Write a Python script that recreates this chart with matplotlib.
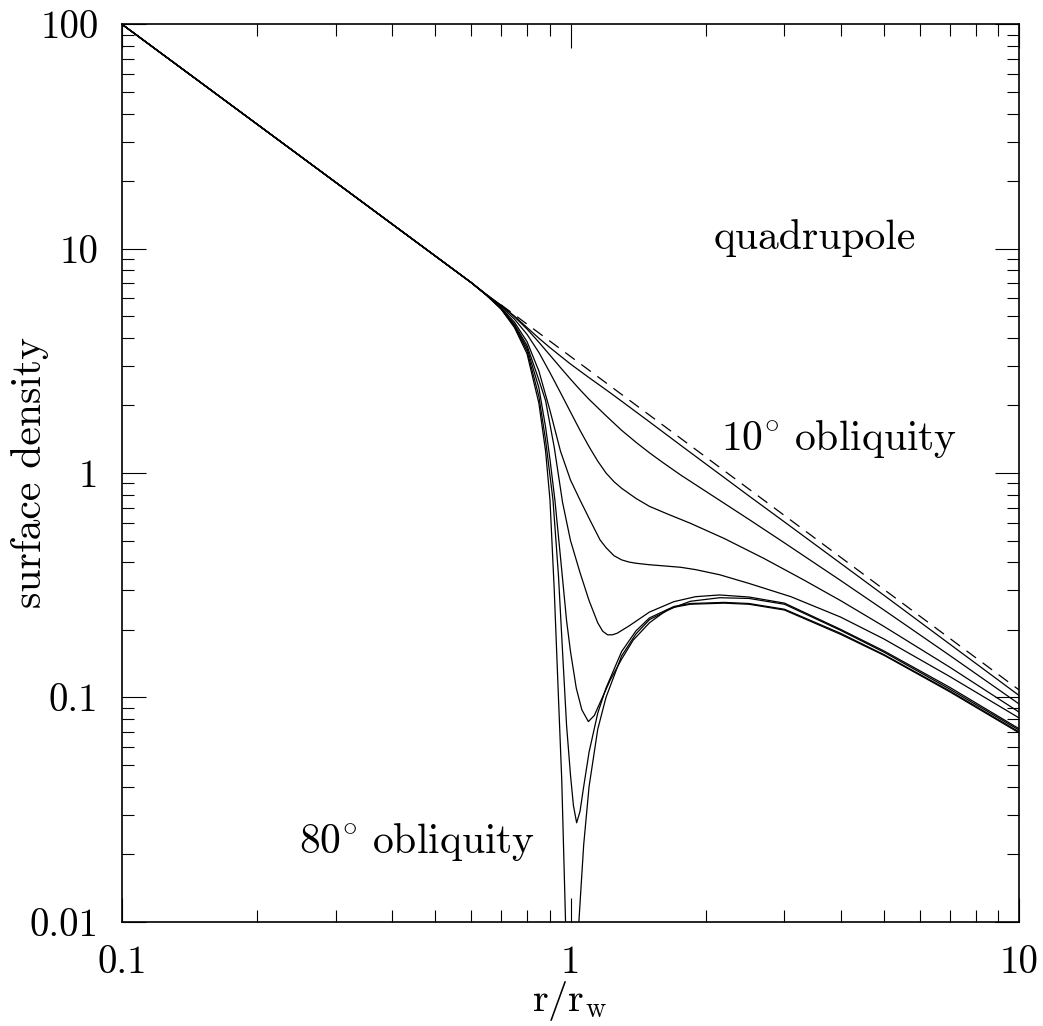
import matplotlib
matplotlib.use('Agg')
import matplotlib.pyplot as plt
from matplotlib.ticker import NullFormatter

plt.rcParams['font.family'] = ['cmr10', 'DejaVu Serif']
plt.rcParams['mathtext.fontset'] = 'cm'
plt.rcParams['axes.formatter.use_mathtext'] = True

# power law r^-1.5 (dashed continuation)
r_dash = [0.7, 10.0]
s_dash = [5.62, 0.108]

# curves for obliquities 10..80 deg
r_10 = [0.1, 0.6, 0.65, 0.7, 0.75, 0.8, 0.85, 0.9, 0.95, 1.0, 1.1, 1.2, 1.3, 1.5, 1.76, 2.0, 2.5, 3.0, 4.0, 5.0, 7.0, 10.0]
s_10 = [100, 7.07, 6.24, 5.6, 5.0, 4.45, 3.99, 3.62, 3.32, 3.06, 2.66, 2.35, 2.09, 1.69, 1.33, 1.10, 0.79, 0.605, 0.396, 0.285, 0.173, 0.102]

r_20 = [0.1, 0.6, 0.65, 0.7, 0.75, 0.8, 0.85, 0.9, 0.95, 1.0, 1.05, 1.1, 1.2, 1.3, 1.4, 1.5, 1.6, 1.76, 2.0, 2.5, 3.0, 4.0, 5.0, 7.0, 10.0]
s_20 = [100, 7.07, 6.24, 5.58, 4.97, 4.38, 3.83, 3.35, 2.95, 2.62, 2.35, 2.13, 1.8, 1.55, 1.37, 1.23, 1.12, 0.98, 0.83, 0.621, 0.488, 0.332, 0.245, 0.154, 0.0935]

r_30 = [0.1, 0.6, 0.65, 0.7, 0.75, 0.8, 0.85, 0.9, 0.95, 1.0, 1.05, 1.1, 1.15, 1.2, 1.25, 1.3, 1.4, 1.5, 1.65, 1.85, 2.2, 2.7, 3.3, 4.0, 5.0, 7.0, 10.0]
s_30 = [100, 7.07, 6.22, 5.52, 4.85, 4.15, 3.45, 2.8, 2.28, 1.87, 1.55, 1.31, 1.13, 1.0, 0.915, 0.855, 0.77, 0.71, 0.655, 0.597, 0.511, 0.416, 0.335, 0.27, 0.207, 0.1365, 0.086]

r_40 = [0.1, 0.6, 0.65, 0.7, 0.75, 0.8, 0.85, 0.9, 0.95, 1.0, 1.05, 1.105, 1.164, 1.2, 1.25, 1.3, 1.35, 1.4, 1.5, 1.6, 1.76, 1.9, 2.15, 2.5, 3.1, 4.0, 5.0, 7.0, 10.0]
s_40 = [100, 7.07, 6.2, 5.45, 4.7, 3.85, 2.85, 1.9, 1.25, 0.93, 0.758, 0.617, 0.503, 0.465, 0.428, 0.41, 0.401, 0.396, 0.39, 0.386, 0.38, 0.371, 0.352, 0.322, 0.281, 0.228, 0.182, 0.124, 0.081]

r_50 = [0.1, 0.6, 0.65, 0.7, 0.75, 0.8, 0.85, 0.88, 0.92, 0.96, 1.0, 1.05, 1.1, 1.15, 1.18, 1.21, 1.24, 1.27, 1.35, 1.5, 1.7, 1.9, 2.15, 2.5, 3.0, 4.0, 5.0, 7.0, 10.0]
s_50 = [100, 7.07, 6.2, 5.42, 4.6, 3.7, 2.6, 2.1, 1.3, 0.74, 0.5, 0.36, 0.27, 0.215, 0.197, 0.19, 0.19, 0.193, 0.208, 0.24, 0.267, 0.281, 0.286, 0.28, 0.263, 0.201, 0.161, 0.111, 0.0725]

r_60 = [0.1, 0.6, 0.65, 0.7, 0.75, 0.8, 0.85, 0.88, 0.9, 0.923, 0.95, 0.98, 1.0, 1.03, 1.06, 1.096, 1.13, 1.17, 1.225, 1.3, 1.38, 1.5, 1.64, 1.85, 2.15, 2.5, 3.0, 4.0, 5.0, 7.0, 10.0]
s_60 = [100, 7.07, 6.2, 5.4, 4.55, 3.6, 2.4, 1.6, 1.15, 0.758, 0.42, 0.22, 0.16, 0.11, 0.088, 0.078, 0.083, 0.097, 0.119, 0.148, 0.18, 0.215, 0.245, 0.268, 0.278, 0.276, 0.26, 0.199, 0.159, 0.109, 0.0715]

r_70 = [0.1, 0.6, 0.65, 0.7, 0.75, 0.8, 0.85, 0.88, 0.914, 0.94, 0.96, 0.98, 1.0, 1.015, 1.032, 1.05, 1.07, 1.1, 1.15, 1.2, 1.3, 1.4, 1.5, 1.7, 1.85, 2.2, 2.5, 3.0, 4.0, 5.0, 7.0, 10.0]
s_70 = [100, 7.07, 6.2, 5.4, 4.5, 3.5, 2.2, 1.4, 0.758, 0.35, 0.16, 0.075, 0.045, 0.033, 0.0276, 0.031, 0.04, 0.057, 0.085, 0.11, 0.16, 0.198, 0.226, 0.254, 0.262, 0.265, 0.262, 0.247, 0.193, 0.155, 0.107, 0.0702]

r_80 = [0.1, 0.6, 0.65, 0.7, 0.75, 0.8, 0.85, 0.88, 0.9, 0.92, 0.94, 0.956, 0.972, 0.99, 1.0, 1.02, 1.044, 1.07, 1.1, 1.15, 1.2, 1.3, 1.4, 1.5, 1.7, 1.85, 2.2, 2.5, 3.0, 4.0, 5.0, 7.0, 10.0]
s_80 = [100, 7.07, 6.2, 5.38, 4.45, 3.4, 2.05, 1.25, 0.758, 0.3, 0.1, 0.043, 0.0125, 0.003, 0.002, 0.004, 0.01, 0.022, 0.04, 0.072, 0.1, 0.153, 0.192, 0.222, 0.252, 0.26, 0.263, 0.26, 0.245, 0.191, 0.154, 0.106, 0.0695]

curves = [(r_10, s_10), (r_20, s_20), (r_30, s_30), (r_40, s_40),
          (r_50, s_50), (r_60, s_60), (r_70, s_70), (r_80, s_80)]

fig = plt.figure(figsize=(10.43, 10.26), dpi=100)
ax = fig.add_axes([122/1043, 1 - 921.7/1026, 897/1043, 897.4/1026])

for r, s in curves:
    ax.plot(r, s, color='black', lw=0.9)
ax.plot(r_dash, s_dash, color='black', lw=0.9, dashes=(9.5, 6.5))

ax.set_xscale('log')
ax.set_yscale('log')
ax.set_xlim(0.1, 10)
ax.set_ylim(0.01, 100)
ax.set_xticks([0.1, 1, 10])
ax.set_xticklabels(['0.1', '1', '10'])
ax.set_yticks([0.01, 0.1, 1, 10, 100])
ax.set_yticklabels(['0.01', '0.1', '1', '10', '100'])
ax.xaxis.set_minor_formatter(NullFormatter())
ax.yaxis.set_minor_formatter(NullFormatter())
ax.tick_params(which='both', direction='in', top=True, right=True, width=0.8, labelsize=28)
ax.tick_params(which='major', length=17)
ax.tick_params(which='minor', length=8.6)
ax.tick_params(axis='y', pad=17)
ax.tick_params(axis='x', pad=17)
for sp in ax.spines.values():
    sp.set_linewidth(1.2)

ax.text(0.7726, 0.7493, 'quadrupole', transform=ax.transAxes, ha='center', va='baseline', fontsize=30)
ax.text(0.7993, 0.5256, r'$\mathrm{10^{\circ}\ obliquity}$', transform=ax.transAxes, ha='center', va='baseline', fontsize=30)
ax.text(0.3294, 0.0762, r'$\mathrm{80^{\circ}\ obliquity}$', transform=ax.transAxes, ha='center', va='baseline', fontsize=30)

fig.text(30/1043, 1 - 473/1026, 'surface density', rotation=90, ha='center', va='center', fontsize=30)
fig.text(570/1043, 1 - 1011/1026, r'r/r$_\mathrm{w}$', ha='center', va='baseline', fontsize=29)

fig.savefig('out.png', dpi=100)
